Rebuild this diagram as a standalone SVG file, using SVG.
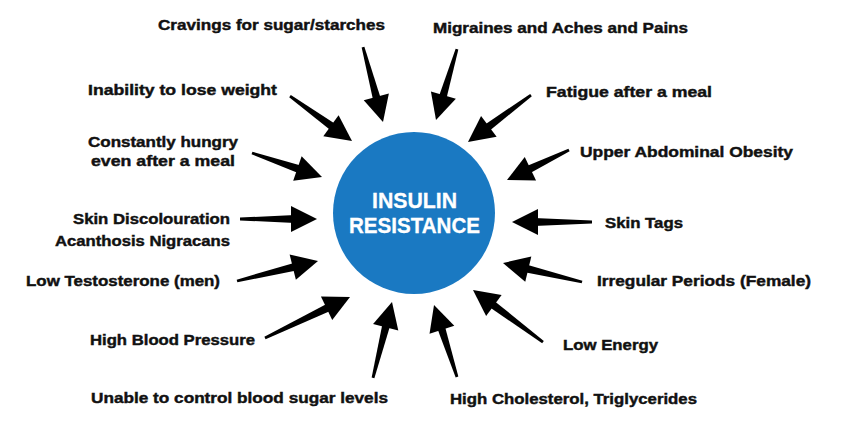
<svg xmlns="http://www.w3.org/2000/svg" xmlns:xlink="http://www.w3.org/1999/xlink" width="842" height="421" viewBox="0 0 842 421">
<style>
.lbl{font-family:"Liberation Sans",Arial,sans-serif;font-weight:bold;font-size:15.5px;fill:#111;stroke:#111;stroke-width:0.45px;}
.ctr{font-family:"Liberation Sans",Arial,sans-serif;font-weight:bold;font-size:22px;fill:#fff;stroke:#fff;stroke-width:0.3px;text-anchor:middle;}
.arr{fill:#000;}
</style>
<defs>
<polygon id="shaft" points="-1,-1.4 0,-4 0,4 -1,1.4"/>
<polygon id="head" points="0,0 -26,-13 -26,13"/>
</defs>
<rect width="842" height="421" fill="#fff"/>
<g id="connectors" class="arr">
<g transform="translate(383,122) rotate(75.07)"><use xlink:href="#head"/><use xlink:href="#shaft" transform="translate(-22,0) scale(55.6,1)"/></g>
<g transform="translate(436,120) rotate(106.48)"><use xlink:href="#head"/><use xlink:href="#shaft" transform="translate(-22,0) scale(52,1)"/></g>
<g transform="translate(352,141) rotate(35.97)"><use xlink:href="#head"/><use xlink:href="#shaft" transform="translate(-22,0) scale(54.6,1)"/></g>
<g transform="translate(468,142) rotate(143.28)"><use xlink:href="#head"/><use xlink:href="#shaft" transform="translate(-22,0) scale(56.6,1)"/></g>
<g transform="translate(322,177) rotate(18.92)"><use xlink:href="#head"/><use xlink:href="#shaft" transform="translate(-22,0) scale(52,1)"/></g>
<g transform="translate(507,180) rotate(154.18)"><use xlink:href="#head"/><use xlink:href="#shaft" transform="translate(-22,0) scale(46.9,1)"/></g>
<g transform="translate(317,219) rotate(0)"><use xlink:href="#head"/><use xlink:href="#shaft" transform="translate(-22,0) scale(55,1)"/></g>
<g transform="translate(512,222) rotate(180)"><use xlink:href="#head"/><use xlink:href="#shaft" transform="translate(-22,0) scale(58,1)"/></g>
<g transform="translate(318,261) rotate(-13.87)"><use xlink:href="#head"/><use xlink:href="#shaft" transform="translate(-22,0) scale(61.4,1)"/></g>
<g transform="translate(503,263) rotate(-166.48)"><use xlink:href="#head"/><use xlink:href="#shaft" transform="translate(-22,0) scale(59.3,1)"/></g>
<g transform="translate(350,297) rotate(-25.75)"><use xlink:href="#head"/><use xlink:href="#shaft" transform="translate(-22,0) scale(72.4,1)"/></g>
<g transform="translate(473,290) rotate(-143.39)"><use xlink:href="#head"/><use xlink:href="#shaft" transform="translate(-22,0) scale(65.2,1)"/></g>
<g transform="translate(392,302) rotate(-75.96)"><use xlink:href="#head"/><use xlink:href="#shaft" transform="translate(-22,0) scale(56.3,1)"/></g>
<g transform="translate(434,305) rotate(-107.72)"><use xlink:href="#head"/><use xlink:href="#shaft" transform="translate(-22,0) scale(53.6,1)"/></g>
</g>
<g id="insulin-resistance">
<circle cx="414" cy="213" r="81" fill="#1a79c2"/>
<text class="ctr" x="414.5" y="208" textLength="85" lengthAdjust="spacingAndGlyphs">INSULIN</text>
<text class="ctr" x="414.5" y="233" textLength="131" lengthAdjust="spacingAndGlyphs">RESISTANCE</text>
</g>
<g id="cravings"><text class="lbl" x="158" y="30" textLength="227" lengthAdjust="spacingAndGlyphs">Cravings for sugar/starches</text></g>
<g id="migraines"><text class="lbl" x="433" y="33" textLength="255" lengthAdjust="spacingAndGlyphs">Migraines and Aches and Pains</text></g>
<g id="inability"><text class="lbl" x="88" y="95" textLength="189" lengthAdjust="spacingAndGlyphs">Inability to lose weight</text></g>
<g id="fatigue"><text class="lbl" x="546" y="97" textLength="166" lengthAdjust="spacingAndGlyphs">Fatigue after a meal</text></g>
<g id="hungry"><text class="lbl" x="88" y="147" textLength="150" lengthAdjust="spacingAndGlyphs">Constantly hungry</text><text class="lbl" x="91" y="166" textLength="144" lengthAdjust="spacingAndGlyphs">even after a meal</text></g>
<g id="obesity"><text class="lbl" x="580" y="157" textLength="213" lengthAdjust="spacingAndGlyphs">Upper Abdominal Obesity</text></g>
<g id="skin-discolouration"><text class="lbl" x="73" y="224" textLength="157" lengthAdjust="spacingAndGlyphs">Skin Discolouration</text><text class="lbl" x="55" y="246" textLength="175" lengthAdjust="spacingAndGlyphs">Acanthosis Nigracans</text></g>
<g id="skin-tags"><text class="lbl" x="605" y="228" textLength="78" lengthAdjust="spacingAndGlyphs">Skin Tags</text></g>
<g id="testosterone"><text class="lbl" x="26" y="286" textLength="194" lengthAdjust="spacingAndGlyphs">Low Testosterone (men)</text></g>
<g id="periods"><text class="lbl" x="597" y="286" textLength="214" lengthAdjust="spacingAndGlyphs">Irregular Periods (Female)</text></g>
<g id="blood-pressure"><text class="lbl" x="90" y="345" textLength="165" lengthAdjust="spacingAndGlyphs">High Blood Pressure</text></g>
<g id="low-energy"><text class="lbl" x="563" y="350" textLength="95" lengthAdjust="spacingAndGlyphs">Low Energy</text></g>
<g id="blood-sugar"><text class="lbl" x="91" y="403" textLength="297" lengthAdjust="spacingAndGlyphs">Unable to control blood sugar levels</text></g>
<g id="cholesterol"><text class="lbl" x="450" y="404" textLength="247" lengthAdjust="spacingAndGlyphs">High Cholesterol, Triglycerides</text></g>
</svg>
